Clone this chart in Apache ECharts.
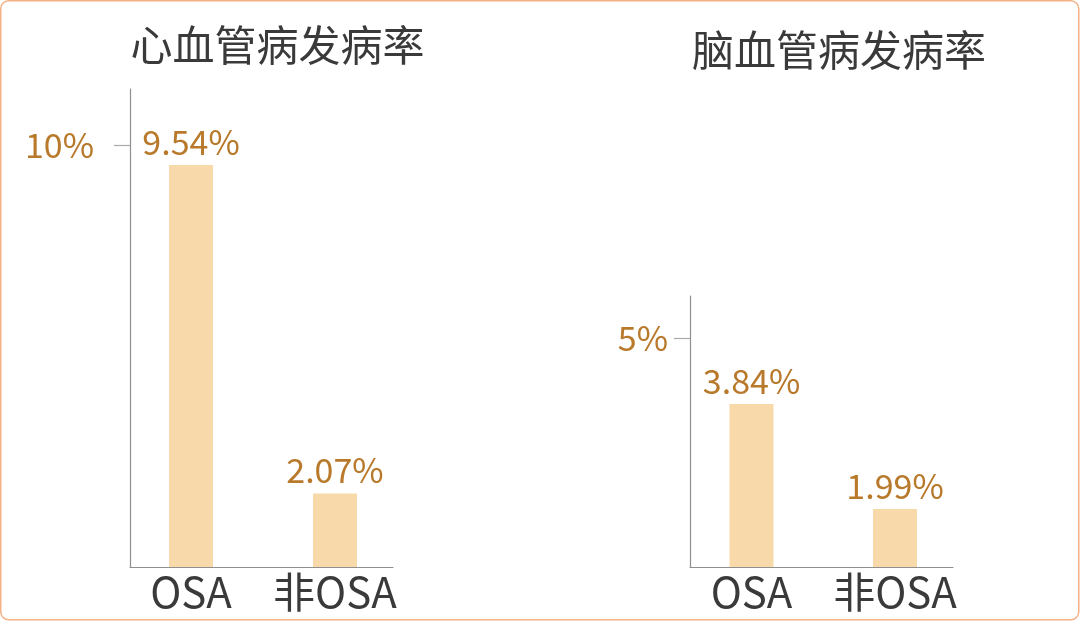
<!DOCTYPE html>
<html><head><meta charset="utf-8">
<script src="https://cdn.jsdelivr.net/npm/echarts@6/dist/echarts.min.js"></script>
<style>html,body{margin:0;padding:0;background:#fff}#c{width:1080px;height:621px}</style>
</head><body><div id="c"></div>
<script>
const categories = ['OSA', '非OSA'];
const titles = ['心血管病发病率', '脑血管病发病率'];
const cardioValues = [9.54, 2.07];
const cerebroValues = [3.84, 1.99];
const cardioTicks = [10];
const cerebroTicks = [5];

const FONT = '"Noto Sans CJK SC", "Noto Sans", sans-serif';
const BROWN = '#b8792b';
const DARK = '#3a3a3a';
const BAR = '#f8d9a9';
const AXIS = '#8f8f8f';

function toPoints(vals) { return vals.map((v, i) => [i, v]); }

function xAxisCfg(idx, min, max) {
  return {
    type: 'value', gridIndex: idx, min: min, max: max,
    axisLine: { show: true, onZero: false, lineStyle: { color: AXIS, width: 1.2 } },
    axisTick: { show: false },
    splitLine: { show: false },
    axisLabel: {
      customValues: categories.map((c, i) => i),
      formatter: v => categories[Math.round(v)],
      color: DARK, fontSize: 42, fontFamily: FONT, margin: 4
    }
  };
}
function yAxisCfg(idx, min, max, ticks, margin) {
  return {
    type: 'value', gridIndex: idx, min: min, max: max,
    axisLine: { show: true, onZero: false, lineStyle: { color: AXIS, width: 1.2 } },
    axisTick: { show: true, length: 16, customValues: ticks, lineStyle: { color: '#aaaaaa', width: 1.2 } },
    splitLine: { show: false },
    axisLabel: {
      customValues: ticks,
      formatter: v => v + '%',
      color: BROWN, fontSize: 34, fontFamily: FONT, margin: margin
    }
  };
}
function barSeries(idx, vals) {
  return {
    type: 'bar', xAxisIndex: idx, yAxisIndex: idx,
    data: toPoints(vals), barWidth: 44, clip: true,
    itemStyle: { color: BAR },
    label: {
      show: true, position: 'top', distance: 6,
      formatter: p => p.value[1].toFixed(2) + '%',
      color: BROWN, fontSize: 34, fontFamily: FONT
    }
  };
}

const chart = echarts.init(document.getElementById('c'));
chart.setOption({
  animation: false,
  backgroundColor: '#ffffff',
  grid: [
    { left: 130, top: 89, width: 263, height: 478 },
    { left: 690, top: 296, width: 263, height: 271 }
  ],
  xAxis: [xAxisCfg(0, -0.424, 1.403), xAxisCfg(1, -0.4286, 1.404)],
  yAxis: [yAxisCfg(0, 0.4, 11.27, cardioTicks, 36), yAxisCfg(1, 0.97, 5.74, cerebroTicks, 22)],
  series: [barSeries(0, cardioValues), barSeries(1, cerebroValues)],
  graphic: [
    { type: 'rect', silent: true, shape: { x: 0.75, y: 0.75, width: 1078, height: 619, r: 8 },
      style: { fill: 'none', stroke: '#f4b183', lineWidth: 1.5 } },
    { type: 'text', x: 277.5, y: 45, style: { text: titles[0], fill: DARK, font: '42px ' + FONT, textAlign: 'center', textVerticalAlign: 'middle' } },
    { type: 'text', x: 839, y: 50, style: { text: titles[1], fill: DARK, font: '42px ' + FONT, textAlign: 'center', textVerticalAlign: 'middle' } }
  ]
});
</script></body></html>
